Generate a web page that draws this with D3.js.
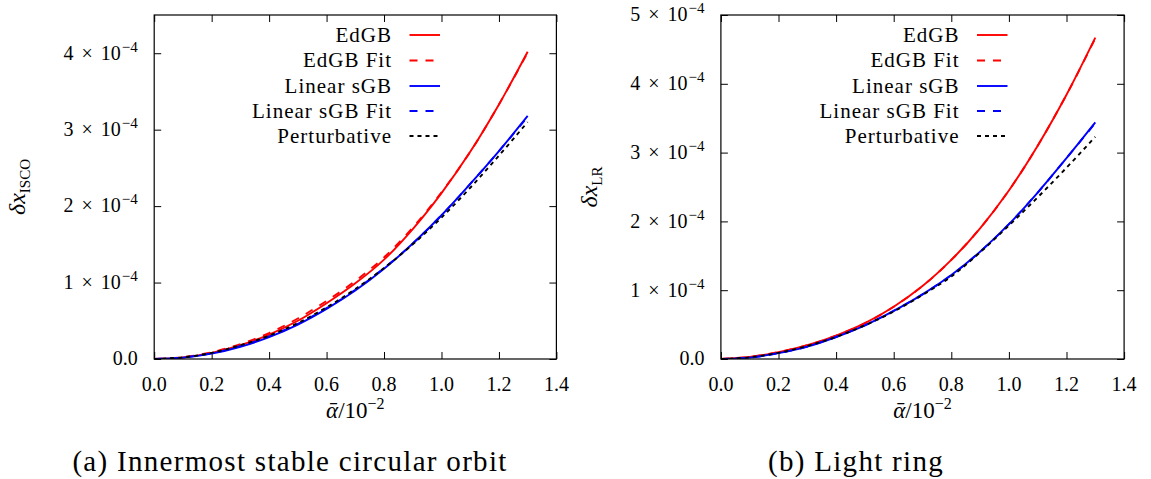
<!DOCTYPE html>
<html>
<head>
<meta charset="utf-8">
<script src="https://cdn.jsdelivr.net/npm/d3@7"></script>
<style>
  html, body { margin: 0; padding: 0; background: #fff; }
  svg { display: block; }
  svg text { font-family: "Liberation Serif", "DejaVu Serif", serif; }
</style>
</head>
<body>
<svg id="fig" width="1151" height="479"></svg>
<script>
// Coupling parameter, in units of 10^-2
const alpha = [0.0, 0.1, 0.2, 0.3, 0.4, 0.5, 0.6, 0.7, 0.8, 0.9, 1.0, 1.1, 1.2, 1.3];

// ISCO shift, in units of 10^-4
const iscoEdGB     = [0, 0.020, 0.080, 0.18, 0.32, 0.50, 0.73, 0.99, 1.30, 1.70, 2.17, 2.71, 3.33, 4.02];
const iscoEdGBFit  = [0, 0.024, 0.088, 0.195, 0.34, 0.53, 0.76, 1.02, 1.33, 1.72, 2.18, 2.71, 3.33, 4.01];
const iscoSGB      = [0, 0.018, 0.070, 0.16, 0.285, 0.45, 0.655, 0.895, 1.18, 1.51, 1.88, 2.29, 2.72, 3.18];
const iscoSGBFit   = [0, 0.020, 0.075, 0.17, 0.295, 0.46, 0.665, 0.905, 1.19, 1.51, 1.88, 2.29, 2.72, 3.17];
const iscoPert     = [0, 0.022, 0.080, 0.18, 0.305, 0.47, 0.675, 0.915, 1.19, 1.50, 1.85, 2.24, 2.66, 3.10];

// Light-ring shift, in units of 10^-4
const lrEdGB       = [0, 0.030, 0.10, 0.20, 0.34, 0.52, 0.76, 1.06, 1.44, 1.90, 2.45, 3.10, 3.84, 4.67];
const lrEdGBFit    = [0, 0.030, 0.10, 0.20, 0.34, 0.52, 0.76, 1.06, 1.44, 1.90, 2.45, 3.10, 3.84, 4.66];
const lrSGB        = [0, 0.020, 0.085, 0.18, 0.32, 0.49, 0.70, 0.94, 1.22, 1.56, 1.96, 2.42, 2.92, 3.44];
const lrSGBFit     = [0, 0.020, 0.085, 0.18, 0.32, 0.49, 0.70, 0.94, 1.22, 1.56, 1.96, 2.42, 2.92, 3.43];
const lrPert       = [0, 0.025, 0.090, 0.19, 0.32, 0.49, 0.69, 0.93, 1.20, 1.55, 1.94, 2.35, 2.78, 3.23];

const xTicks = [0.0, 0.2, 0.4, 0.6, 0.8, 1.0, 1.2, 1.4];
const iscoYTicks = [0, 1, 2, 3, 4];
const lrYTicks = [0, 1, 2, 3, 4, 5];

const seriesNames = ["EdGB", "EdGB Fit", "Linear sGB", "Linear sGB Fit", "Perturbative"];
const seriesColors = ["#ff0000", "#ff0000", "#0000ff", "#0000ff", "#000000"];
const seriesDash = [null, "8,8", null, "8,8", "4,4"];

const svg = d3.select("#fig");

function drawPanel(opts) {
  const { left, right, top, bottom, yMax, yTicks, series, ySub, caption, captionX } = opts;
  const x = d3.scaleLinear().domain([0, 1.4]).range([left, right]);
  const y = d3.scaleLinear().domain([0, yMax]).range([bottom, top]);
  const g = svg.append("g");

  // clip region for the curves
  const clipId = "clip" + Math.round(left);
  svg.append("clipPath").attr("id", clipId)
    .append("rect").attr("x", left).attr("y", top).attr("width", right - left).attr("height", bottom - top);

  // ticks on all four sides, pointing inward
  const tick = 7;
  const axes = [
    [d3.axisBottom(x).tickValues(xTicks), `translate(0,${bottom})`],
    [d3.axisTop(x).tickValues(xTicks), `translate(0,${top})`],
    [d3.axisLeft(y).tickValues(yTicks), `translate(${left},0)`],
    [d3.axisRight(y).tickValues(yTicks), `translate(${right},0)`]
  ];
  axes.forEach(([ax, tr]) => {
    g.append("g").attr("transform", tr)
      .call(ax.tickSize(-tick).tickSizeOuter(0).tickFormat(""))
      .call(s => s.select(".domain").remove())
      .call(s => s.selectAll(".tick line").attr("stroke", "#000").attr("stroke-width", 1));
  });

  // x tick labels
  g.selectAll(".xlab").data(xTicks).join("text")
    .attr("x", d => x(d)).attr("y", bottom + 31.5)
    .attr("text-anchor", "middle").attr("font-size", 20)
    .text(d => d.toFixed(1));

  // y tick labels: 0.0 and k × 10^-4
  const yl = g.selectAll(".ylab").data(yTicks).join("text")
    .attr("x", left - 16.5).attr("y", d => y(d) + 6.3)
    .attr("text-anchor", "end").attr("font-size", 20);
  yl.each(function (d) {
    const t = d3.select(this);
    if (d === 0) { t.text("0.0"); return; }
    t.append("tspan").text(d);
    t.append("tspan").attr("dx", 8).text("×");
    t.append("tspan").attr("dx", 8).text("10");
    t.append("tspan").attr("dx", 1).attr("dy", -8).attr("font-size", 15).text("−4");
  });

  // curves
  const line = d3.line().x(d => x(d[0])).y(d => y(d[1])).curve(d3.curveCatmullRom);
  const cg = g.append("g").attr("clip-path", `url(#${clipId})`);
  series.forEach((vals, i) => {
    cg.append("path")
      .datum(alpha.map((a, k) => [a, vals[k]]))
      .attr("d", line)
      .attr("fill", "none")
      .attr("stroke", seriesColors[i])
      .attr("stroke-width", 1.9)
      .attr("stroke-dasharray", seriesDash[i]);
  });

  // frame
  g.append("rect").attr("x", left).attr("y", top).attr("width", right - left).attr("height", bottom - top)
    .attr("fill", "none").attr("stroke", "#000").attr("stroke-width", 1.2);

  // legend
  const legRight = opts.legendTextRight;
  const legRows = [35, 60.5, 86, 111, 136];
  seriesNames.forEach((name, i) => {
    g.append("text").attr("x", legRight).attr("y", legRows[i] + 6.8)
      .attr("text-anchor", "end").attr("font-size", 21).attr("letter-spacing", 1)
      .text(name);
    g.append("line")
      .attr("x1", legRight + 17.5).attr("x2", legRight + 48)
      .attr("y1", legRows[i]).attr("y2", legRows[i])
      .attr("stroke", seriesColors[i]).attr("stroke-width", 1.9)
      .attr("stroke-dasharray", seriesDash[i]);
  });

  // y axis title
  const yt = g.append("text")
    .attr("transform", `translate(${opts.yTitleX},${(top + bottom) / 2}) rotate(-90)`)
    .attr("text-anchor", "middle").attr("font-size", 24);
  yt.append("tspan").attr("font-style", "italic").text("δx");
  yt.append("tspan").attr("dy", 5).attr("font-size", 15).text(ySub);

  // x axis title
  const xt = g.append("text")
    .attr("x", (left + right) / 2).attr("y", 418)
    .attr("text-anchor", "middle").attr("font-size", 23);
  xt.append("tspan").attr("font-style", "italic").text("ᾱ");
  xt.append("tspan").text("/10");
  xt.append("tspan").attr("dy", -9).attr("font-size", 16).text("−2");

  // caption
  svg.append("text").attr("x", captionX).attr("y", 471)
    .attr("text-anchor", "middle").attr("font-size", 29).attr("letter-spacing", 1.3)
    .text(caption);
}

drawPanel({
  left: 154.2, right: 556.4, top: 15, bottom: 359, yMax: 4.5, yTicks: iscoYTicks,
  series: [iscoEdGB, iscoEdGBFit, iscoSGB, iscoSGBFit, iscoPert],
  ySub: "ISCO", yTitleX: 25, legendTextRight: 392,
  caption: "(a) Innermost stable circular orbit", captionX: 290
});

drawPanel({
  left: 720.9, right: 1124.1, top: 15, bottom: 359, yMax: 5, yTicks: lrYTicks,
  series: [lrEdGB, lrEdGBFit, lrSGB, lrSGBFit, lrPert],
  ySub: "LR", yTitleX: 597, legendTextRight: 959.5,
  caption: "(b) Light ring", captionX: 856
});
</script>
</body>
</html>
